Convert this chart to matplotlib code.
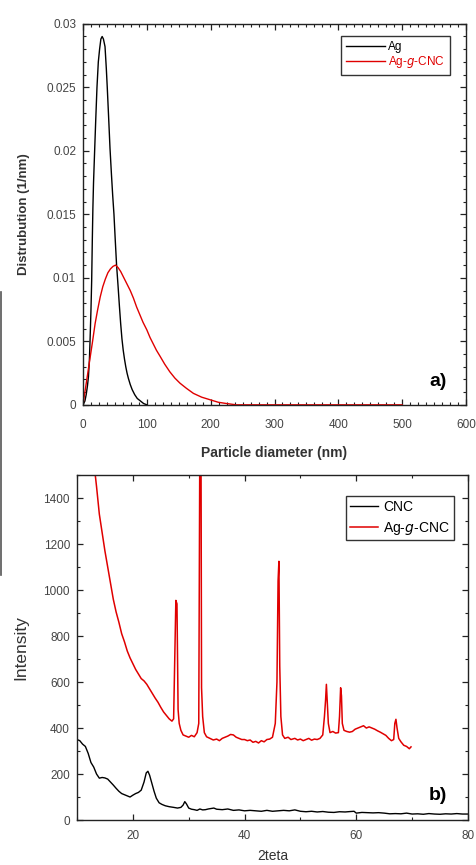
import numpy as np
import matplotlib
matplotlib.use('Agg')
import matplotlib.pyplot as plt
from matplotlib.ticker import MultipleLocator
from matplotlib.lines import Line2D

plt.rcParams['font.family'] = ['Liberation Sans', 'DejaVu Sans']

# --- a) particle size distribution ---
ag_d = [0, 3, 5, 7, 8.5, 10, 11, 12.5, 13.6, 14.6, 15.5, 16.5, 18.3, 20, 21.9, 24, 26, 28, 30,
        32, 34.5, 36.5, 38, 40, 42.3, 44.5, 46.5, 48.5, 50.5, 52.6, 55, 57, 59, 61, 63, 65,
        67, 69, 71, 74, 77, 81, 85, 90, 95, 100]
ag_p = [0, 0.0003, 0.0008, 0.0015, 0.0022, 0.0035, 0.005, 0.0075, 0.0098, 0.013, 0.0155,
        0.0175, 0.0201, 0.0225, 0.025, 0.027, 0.028, 0.0288, 0.029,
        0.0288, 0.0282, 0.0265, 0.025, 0.0228, 0.0202, 0.0182, 0.0165, 0.015, 0.013, 0.011,
        0.0093, 0.0078, 0.0064, 0.0052, 0.0043, 0.0036, 0.003, 0.0025, 0.0021, 0.0016,
        0.0012, 0.0008, 0.0005, 0.0003, 0.0001, 0]

agcnc_d = [0, 3, 6, 9, 12, 15, 19, 23, 27, 31, 35, 39, 43, 47, 51, 55, 59, 63, 68, 74, 79,
           84, 89, 94, 100, 105, 110, 115, 121, 128, 136, 144, 152, 162, 173, 186, 199,
           212, 225, 240, 500]
agcnc_p = [0, 0.001, 0.002, 0.003, 0.004, 0.005, 0.0064, 0.0075, 0.0085, 0.0093, 0.0099,
           0.0104, 0.0107, 0.0109, 0.011, 0.0108, 0.0105, 0.0101, 0.0096, 0.009, 0.0084,
           0.0077, 0.0071, 0.0065, 0.0059, 0.0053, 0.0048, 0.0043, 0.0038, 0.0032, 0.0026,
           0.0021, 0.0017, 0.0013, 0.0009, 0.0006, 0.0004, 0.0002, 0.0001, 0, 0]

# --- b) XRD ---
cnc_2t = [10.0, 10.5, 11.0, 11.5, 12.0, 12.5, 13.0, 13.5, 14.0, 14.5, 15.0, 15.5, 16.0, 16.5,
          17.0, 17.5, 18.0, 18.5, 19.0, 19.5, 20.0, 20.5, 21.0, 21.5, 22.0, 22.4, 22.7, 23.0,
          23.4, 23.8, 24.2, 24.7, 25.2, 25.8, 26.5, 27.3, 28.0, 28.6, 29.0, 29.3, 29.6, 30.0,
          30.5, 31.0, 31.5, 32.0, 32.5, 33.0, 33.5, 34.0, 34.5, 35.0, 36.0, 37.0, 38.0, 39.0,
          40.0, 41.0, 42.0, 43.0, 44.0, 45.0, 46.0, 47.0, 48.0, 49.0, 50.0, 51.0, 52.0, 53.0,
          54.0, 55.0, 56.0, 57.0, 58.0, 59.0, 59.6, 60.0, 61.0, 62.0, 63.0, 64.0, 65.0, 66.0,
          67.0, 68.0, 69.0, 70.0, 71.0, 72.0, 73.0, 74.0, 75.0, 76.0, 77.0, 78.0, 79.0, 80.0]
cnc_int = [350, 345, 330, 320, 290, 250, 230, 200, 182, 185, 183, 178, 165, 152,
           138, 125, 115, 110, 105, 100, 108, 115, 120, 130, 165, 205, 212, 195,
           160, 125, 95, 75, 68, 62, 58, 55, 52, 55, 65, 80, 70, 52,
           47, 45, 42, 48, 44, 45, 48, 50, 52, 47, 45, 48, 42, 44,
           40, 42, 40, 38, 42, 38, 40, 42, 40, 44, 38, 36, 38, 35,
           37, 34, 33, 36, 35, 37, 38, 30, 33, 32, 31, 32, 30, 27,
           28, 27, 30, 26, 27, 25, 28, 26, 25, 27, 26, 28, 26, 26]

agcnc_2t = [13.0, 13.5, 14.0, 14.5, 15.0, 15.5, 16.0, 16.5, 17.0, 17.5, 18.0, 18.5, 19.0,
            19.5, 20.0, 20.5, 21.0, 21.5, 22.0, 22.5, 23.0, 23.5, 24.0, 24.5, 25.0, 25.5,
            26.0, 26.5, 27.0, 27.3, 27.5, 27.7, 27.9, 28.1, 28.3, 28.6, 29.0, 29.5, 30.0,
            30.5, 31.0, 31.5, 31.8, 32.0, 32.2, 32.3, 32.5, 32.8, 33.2, 33.8, 34.4, 35.0,
            35.5, 36.0, 36.5, 37.0, 37.5, 38.0, 38.5, 39.0, 39.5, 40.0, 40.5, 41.0, 41.5,
            42.0, 42.5, 43.0, 43.5, 44.0, 44.5, 45.0, 45.5, 45.8, 46.0, 46.15, 46.3, 46.5,
            46.8, 47.2, 47.8, 48.3, 49.0, 49.5, 50.0, 50.5, 51.0, 51.5, 52.0, 52.5, 53.0,
            53.5, 54.0, 54.3, 54.5, 54.65, 54.8, 55.0, 55.3, 55.8, 56.3, 56.8, 57.0, 57.2,
            57.35, 57.5, 57.8, 58.3, 58.8, 59.3, 59.8, 60.3, 60.8, 61.3, 61.8, 62.3, 62.8,
            63.3, 63.8, 64.3, 64.8, 65.3, 65.8, 66.3, 66.7, 66.9, 67.1, 67.3, 67.6, 68.0,
            68.5, 69.0, 69.5, 69.8]
agcnc_int = [1560, 1450, 1330, 1250, 1170, 1100, 1030, 960, 905, 860, 810, 775, 735,
             705, 680, 655, 635, 615, 605, 590, 570, 550, 530, 512, 490, 470,
             455, 440, 430, 440, 700, 955, 940, 480, 420, 390, 370, 365, 360,
             368, 362, 380, 420, 1700, 1650, 575, 450, 380, 362, 355, 348, 352,
             345, 355, 360, 365, 372, 370, 360, 355, 350, 350, 345, 348, 338,
             342, 335, 345, 340, 350, 352, 360, 420, 600, 1040, 1125, 670, 450,
             370, 355, 360, 350, 355, 348, 352, 345, 350, 355, 347, 352, 350,
             355, 370, 450, 520, 590, 520, 420, 380, 385, 378, 380, 450, 575,
             540, 420, 390, 385, 382, 385, 395, 400, 405, 410, 400, 405, 400,
             395, 388, 382, 375, 368, 355, 345, 350, 420, 438, 400, 355, 340,
             325, 320, 310, 318]

fig = plt.figure(figsize=(4.77, 8.65), dpi=100)
tick_col = '#444444'
red = '#e00000'


def style_axis(ax, xpad):
    for s in ax.spines.values():
        s.set_linewidth(1.0)
        s.set_color('#222222')
    ax.tick_params(which='both', direction='in', top=True, right=True,
                   labelsize=8.5, labelcolor=tick_col, color='#222222')
    ax.tick_params(which='major', length=4, width=0.9, pad=5)
    ax.tick_params(which='minor', length=2.5, width=0.8)
    ax.tick_params(axis='x', which='major', pad=xpad)


ax1 = fig.add_axes([0.174, 0.532, 0.803, 0.4405])
ax1.plot(ag_d, ag_p, color='black', lw=1.0, label='Ag')
ax1.plot(agcnc_d, agcnc_p, color=red, lw=1.0, label='Ag-$\\mathit{g}$-CNC')
ax1.set_xlim(0, 600)
ax1.set_ylim(0, 0.03)
ax1.xaxis.set_major_locator(MultipleLocator(100))
ax1.xaxis.set_minor_locator(MultipleLocator(12.5))
ax1.yaxis.set_minor_locator(MultipleLocator(0.001))
ax1.set_yticks([0, 0.005, 0.01, 0.015, 0.02, 0.025, 0.03])
ax1.set_yticklabels(['0', '0.005', '0.01', '0.015', '0.02', '0.025', '0.03'])
style_axis(ax1, 10)
ax1.set_xlabel('Particle diameter (nm)', fontsize=10, fontweight='bold', color='#333333',
               labelpad=11)
ax1.set_ylabel('Distrubution (1/nm)', fontsize=9.5, fontweight='bold', color='#333333',
               labelpad=12)
leg1 = ax1.legend(loc='upper right', fontsize=8.5, frameon=True, fancybox=False,
                  edgecolor='black', handlelength=3.3, handletextpad=0.25,
                  borderpad=0.45, labelspacing=0.05, borderaxespad=0,
                  bbox_to_anchor=(0.958, 0.968))
leg1.get_frame().set_linewidth(1.0)
leg1.get_texts()[1].set_color(red)
ax1.text(0.950, 0.06, 'a)', transform=ax1.transAxes, fontsize=14, fontweight='bold',
         ha='right', va='center')

ax2 = fig.add_axes([0.1614, 0.052, 0.8197, 0.3988])
ax2.plot(cnc_2t, cnc_int, color='black', lw=1.0, label='CNC')
ax2.plot(agcnc_2t, agcnc_int, color=red, lw=1.1, label='Ag-$\\mathit{g}$-CNC')
ax2.set_xlim(10, 80)
ax2.set_ylim(0, 1500)
ax2.xaxis.set_major_locator(MultipleLocator(20))
ax2.xaxis.set_minor_locator(MultipleLocator(10))
ax2.yaxis.set_major_locator(MultipleLocator(200))
ax2.yaxis.set_minor_locator(MultipleLocator(100))
style_axis(ax2, 7)
ax2.set_xlabel('2teta', fontsize=10, color='#333333', labelpad=5)
ax2.set_ylabel('Intensity', fontsize=12.5, color='#333333', labelpad=11)
leg2 = ax2.legend(loc='upper right', fontsize=10, frameon=True, fancybox=False,
                  edgecolor='black', handlelength=2.0, handletextpad=0.4,
                  borderpad=0.28, labelspacing=0.4, borderaxespad=0,
                  bbox_to_anchor=(0.964, 0.939))
leg2.get_frame().set_linewidth(1.0)
ax2.text(0.946, 0.072, 'b)', transform=ax2.transAxes, fontsize=14, fontweight='bold',
         ha='right', va='center')

# dark edge line along the left border of the scan
fig.add_artist(Line2D([0.003, 0.003], [1 - 292 / 865, 1 - 575 / 865], color='#555555',
                      lw=1.2))

fig.savefig('out.png', dpi=100)
